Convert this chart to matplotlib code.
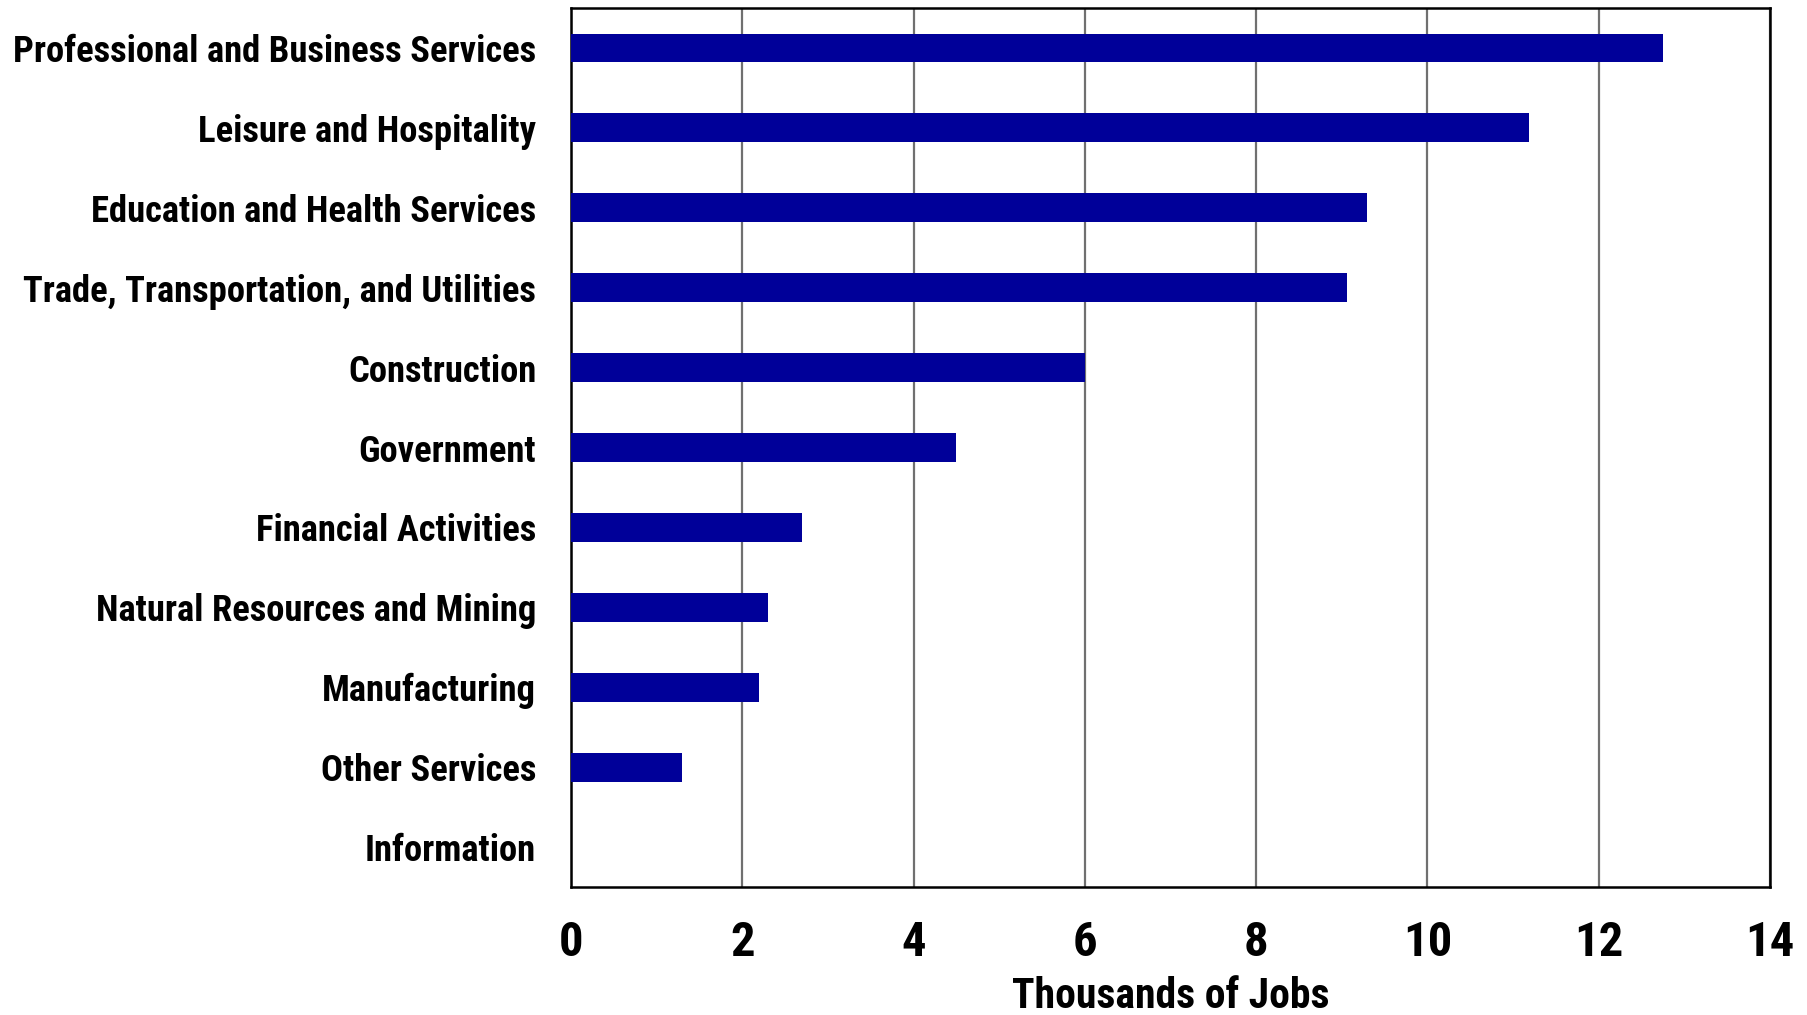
import matplotlib
matplotlib.use("Agg")
import matplotlib.pyplot as plt
from matplotlib import font_manager

categories = [
    "Professional and Business Services",
    "Leisure and Hospitality",
    "Education and Health Services",
    "Trade, Transportation, and Utilities",
    "Construction",
    "Government",
    "Financial Activities",
    "Natural Resources and Mining",
    "Manufacturing",
    "Other Services",
    "Information",
]
values = [12.75, 11.18, 9.30, 9.06, 6.0, 4.5, 2.7, 2.3, 2.2, 1.3, 0.0]
xticks = [0, 2, 4, 6, 8, 10, 12, 14]

bold_fams = {f.name for f in font_manager.fontManager.ttflist
             if f.weight in (700, "bold") and f.style == "normal"}
prefs = ["Liberation Sans Narrow", "Arial Narrow", "Roboto Condensed", "Archivo Narrow",
         "PT Sans Narrow", "Asap Condensed", "Fira Sans Condensed", "IBM Plex Sans Condensed",
         "Open Sans Condensed", "Barlow Condensed", "Sofia Sans Condensed",
         "Saira SemiCondensed", "Liberation Sans"]
family = next(f for f in prefs if f in bold_fams)
plt.rcParams["font.family"] = [family, "DejaVu Sans"]
plt.rcParams["font.weight"] = "bold"

fig = plt.figure(figsize=(18.08, 10.15), dpi=100)
ax = fig.add_axes([0.3158, 0.1261, 0.979 - 0.3158, 0.9921 - 0.1261])

y = list(range(len(categories)))
ax.barh(y, values, height=0.36, color="#000099", zorder=3)
ax.set_ylim(len(categories) - 0.5, -0.5)
ax.set_xlim(0, 14)
ax.set_xticks(xticks)
ax.set_xticklabels([str(t) for t in xticks], fontsize=35, fontweight="bold")
ax.set_yticks(y)
ax.set_yticklabels(categories, fontsize=26.4, fontweight="bold")
ax.tick_params(axis="x", length=0, pad=24)
ax.tick_params(axis="y", length=0, pad=25)
ax.grid(axis="x", color="#707070", linewidth=1.6, zorder=0)
ax.set_axisbelow(True)
for s in ax.spines.values():
    s.set_color("black")
    s.set_linewidth(1.8)
ax.set_xlabel("Thousands of Jobs", fontsize=30, fontweight="bold", labelpad=7)

fig.savefig("out.png", dpi=100)
